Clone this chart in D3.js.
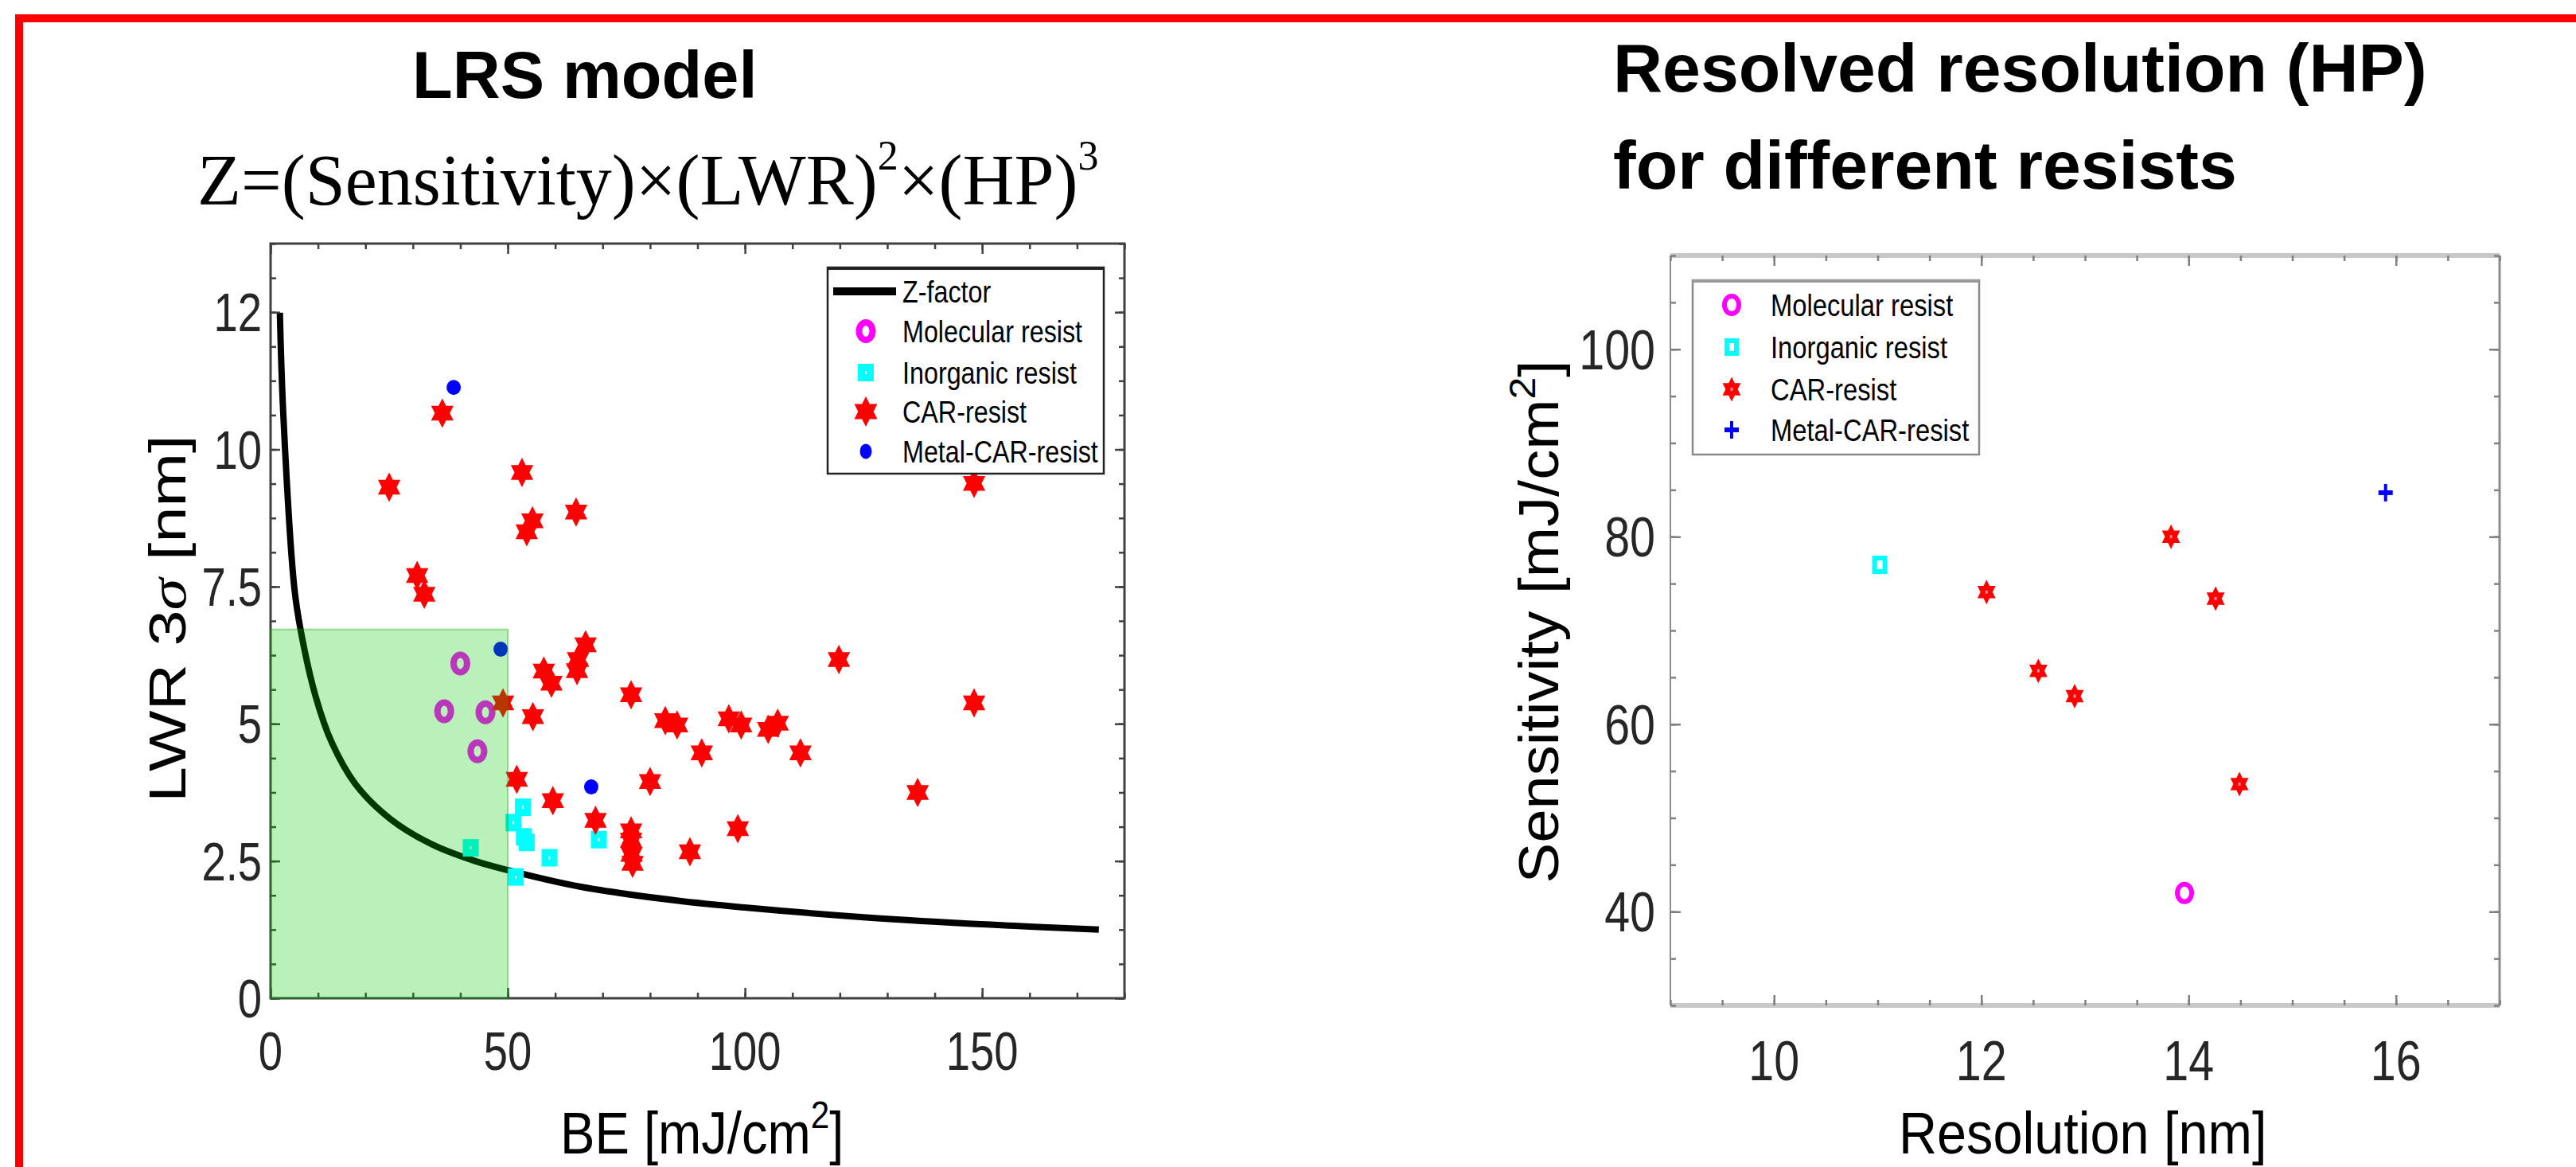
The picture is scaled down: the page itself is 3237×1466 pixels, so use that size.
<!DOCTYPE html>
<html lang="en">
<head>
<meta charset="UTF-8">
<title>LRS model / Resolved resolution</title>
<script src="https://d3js.org/d3.v7.min.js"></script>
<style>
  html, body { margin: 0; padding: 0; background: #fff; }
</style>
</head>
<body>
<div id="chart"></div>
<script>
// ---- data, left plot (BE vs LWR) ----
const zCurveBE  = [1.96, 2.68, 5.03, 6.4, 9.5, 12.9, 17.9, 25.2, 34.1, 43.1, 50.2, 65.4, 85.6, 100.4, 126.1, 151.8, 174.6];
const zCurveLWR = [12.49, 10.65, 7.46, 6.68, 5.5, 4.66, 3.9, 3.27, 2.8, 2.5, 2.33, 2.03, 1.78, 1.65, 1.47, 1.34, 1.25];

const molecularL = [[40.0, 6.1], [36.6, 5.23], [45.3, 5.21], [43.6, 4.5]];
const inorganicL = [[42.2, 2.74], [53.2, 3.48], [51.2, 3.2], [53.4, 2.94], [54.0, 2.84], [58.8, 2.56], [69.2, 2.89], [51.7, 2.21]];
const carL = [
  [36.2, 10.66], [25.0, 9.31], [53.0, 9.58], [64.4, 8.86], [55.2, 8.7], [54.0, 8.5], [30.9, 7.7], [32.4, 7.36],
  [148.3, 9.38], [49.0, 5.38], [66.4, 6.44], [64.8, 6.17], [64.6, 5.97], [57.6, 5.96], [59.2, 5.74], [76.0, 5.53],
  [119.8, 6.17], [148.3, 5.38], [55.3, 5.13], [83.2, 5.06], [85.7, 4.98], [96.6, 5.09], [99.2, 4.98], [104.9, 4.9],
  [106.9, 5.01], [90.9, 4.47], [111.7, 4.47], [51.9, 3.99], [80.0, 3.95], [136.4, 3.75], [59.5, 3.6], [68.5, 3.24],
  [98.5, 3.09], [76.0, 3.05], [76.0, 2.88], [76.1, 2.62], [76.3, 2.46], [88.4, 2.67]
];
const metalL = [[38.6, 11.13], [48.5, 6.36], [67.6, 3.85]];
const greenZoneBE = [0, 50];
const greenZoneLWR = [0, 6.72];

const xTicksL = [0, 50, 100, 150];
const yTicksL = [0, 2.5, 5, 7.5, 10, 12.5];
const yTickLabelsL = ["0", "2.5", "5", "7.5", "10", "12"];

// ---- data, right plot (Resolution vs Sensitivity) ----
const molecularR = [[13.96, 42.0]];
const inorganicR = [[11.02, 77.0]];
const carR = [[12.05, 74.1], [13.83, 80.0], [14.26, 73.4], [12.55, 65.7], [12.9, 63.0], [14.49, 53.6]];
const metalR = [[15.9, 84.7]];

const xTicksR = [10, 12, 14, 16];
const yTicksR = [40, 60, 80, 100];

const legendNames = ["Molecular resist", "Inorganic resist", "CAR-resist", "Metal-CAR-resist"];

// ---- page ----
const W = 3237, H = 1466;
const SANS = "'Liberation Sans', Arial, sans-serif";
const SERIF = "'Liberation Serif', 'Times New Roman', serif";

const svg = d3.select("#chart").append("svg")
  .attr("width", W).attr("height", H);
svg.append("rect").attr("width", W).attr("height", H).attr("fill", "#fff");

// red frame, only top + left visible
svg.append("path")
  .attr("d", `M24,${H} V23 H${W}`)
  .attr("fill", "none").attr("stroke", "#ff0000").attr("stroke-width", 10);

// text helper: squeezed horizontally like the pasted figure
function txt(g, x, y, str, o) {
  let tr = `translate(${x},${y}) scale(${o.sx || 1},1)`;
  if (o.rot) tr += ` rotate(${o.rot})`;
  return g.append("text")
    .attr("transform", tr)
    .attr("text-anchor", o.anchor || "start")
    .attr("font-family", o.family || SANS)
    .attr("font-size", o.size)
    .attr("font-weight", o.weight || "normal")
    .attr("fill", o.fill || "#000")
    .text(str);
}

function hexagram(R, sx) {
  const pts = [];
  for (let k = 0; k < 12; k++) {
    const a = (-90 + k * 30) * Math.PI / 180;
    const r = k % 2 === 0 ? R : R / Math.sqrt(3);
    pts.push([r * Math.cos(a) * sx, r * Math.sin(a)]);
  }
  return "M" + pts.map(p => p[0].toFixed(2) + "," + p[1].toFixed(2)).join("L") + "Z";
}

// marker painters
function ring(g, x, y, s) {
  g.append("ellipse").attr("cx", x).attr("cy", y).attr("rx", s.rx).attr("ry", s.ry)
    .attr("fill", "none").attr("stroke", "#ff00ff").attr("stroke-width", s.sw);
}
function square(g, x, y, s) {
  g.append("rect").attr("x", x - s.w / 2).attr("y", y - s.h / 2).attr("width", s.w).attr("height", s.h)
    .attr("fill", "none").attr("stroke", "#00ffff").attr("stroke-width", s.sw);
}
function star(g, x, y, s) {
  g.append("path").attr("transform", `translate(${x},${y})`).attr("d", hexagram(s.R, s.sx)).attr("fill", "#ff0000");
  if (s.dot) g.append("rect").attr("x", x - 1.5).attr("y", y - 2).attr("width", 3).attr("height", 4).attr("fill", "#ff9090");
}
function blob(g, x, y, s) {
  g.append("ellipse").attr("cx", x).attr("cy", y).attr("rx", s.rx).attr("ry", s.ry).attr("fill", "#0000ff");
}
function plus(g, x, y, s) {
  g.append("line").attr("x1", x - s.w / 2).attr("x2", x + s.w / 2).attr("y1", y).attr("y2", y)
    .attr("stroke", "#0000ff").attr("stroke-width", 6);
  g.append("line").attr("x1", x).attr("x2", x).attr("y1", y - s.h / 2).attr("y2", y + s.h / 2)
    .attr("stroke", "#0000ff").attr("stroke-width", 4);
}

// ================= left plot =================
const xL = d3.scaleLinear().domain([0, 180]).range([340, 1413]);
const yL = d3.scaleLinear().domain([0, 13.75]).range([1254, 306]);
const gL = svg.append("g");

txt(gL, 518, 123, "LRS model", { size: 83, weight: "bold" });

const formula = gL.append("text").attr("x", 248).attr("y", 257)
  .attr("font-family", SERIF).attr("font-size", 90).attr("fill", "#000");
formula.append("tspan").text("Z=(Sensitivity)×(LWR)");
formula.append("tspan").attr("font-size", 52).attr("dy", -44).text("2");
formula.append("tspan").attr("dy", 44).text("×(HP)");
formula.append("tspan").attr("font-size", 52).attr("dy", -44).text("3");

gL.append("rect").attr("x", xL(0)).attr("y", yL(13.75))
  .attr("width", xL(180) - xL(0)).attr("height", yL(0) - yL(13.75)).attr("fill", "#fff");

// Z-factor curve
gL.append("path")
  .datum(zCurveBE.map((b, i) => [b, zCurveLWR[i]]))
  .attr("fill", "none").attr("stroke", "#000").attr("stroke-width", 8)
  .attr("d", d3.line().x(d => xL(d[0])).y(d => yL(d[1])).curve(d3.curveCatmullRom.alpha(0.5)));

const sL = {
  ring: { rx: 8.5, ry: 11, sw: 8 },
  sq: { w: 11, h: 13, sw: 9 },
  star: { R: 18.5, sx: 0.88 },
  blob: { rx: 9, ry: 9.5 }
};
const mL = gL.append("g");
molecularL.forEach(d => ring(mL, xL(d[0]), yL(d[1]), sL.ring));
inorganicL.forEach(d => square(mL, xL(d[0]), yL(d[1]), sL.sq));
carL.forEach(d => star(mL, xL(d[0]), yL(d[1]), sL.star));
metalL.forEach(d => blob(mL, xL(d[0]), yL(d[1]), sL.blob));

// axes box + inward ticks
const axC = "#404040";
function styleAxis(sel) {
  sel.select(".domain").remove();
  sel.selectAll(".tick line").attr("stroke", axC).attr("stroke-width", 2.5);
  sel.selectAll(".tick text").remove();
}
const xMinorL = d3.range(0, 181, 10), yMinorL = d3.range(0, 13.76, 0.625);
[[xMinorL, 7], [xTicksL, 13]].forEach(([tv, len]) => {
  gL.append("g").attr("transform", `translate(0,${yL(0)})`).call(d3.axisBottom(xL).tickValues(tv).tickSize(-len)).call(styleAxis);
  gL.append("g").attr("transform", `translate(0,${yL(13.75)})`).call(d3.axisTop(xL).tickValues(tv).tickSize(-len)).call(styleAxis);
});
[[yMinorL, 7], [yTicksL, 12]].forEach(([tv, len]) => {
  gL.append("g").attr("transform", `translate(${xL(0)},0)`).call(d3.axisLeft(yL).tickValues(tv).tickSize(-len)).call(styleAxis);
  gL.append("g").attr("transform", `translate(${xL(180)},0)`).call(d3.axisRight(yL).tickValues(tv).tickSize(-len)).call(styleAxis);
});
gL.append("rect").attr("x", xL(0)).attr("y", yL(13.75))
  .attr("width", xL(180) - xL(0)).attr("height", yL(0) - yL(13.75))
  .attr("fill", "none").attr("stroke", axC).attr("stroke-width", 3);

// translucent green zone on top
gL.append("rect")
  .attr("x", xL(greenZoneBE[0])).attr("y", yL(greenZoneLWR[1]))
  .attr("width", xL(greenZoneBE[1]) - xL(greenZoneBE[0]))
  .attr("height", yL(greenZoneLWR[0]) - yL(greenZoneLWR[1]))
  .attr("fill", "rgb(0,200,0)").attr("fill-opacity", 0.27)
  .attr("stroke", "rgb(0,160,0)").attr("stroke-opacity", 0.35).attr("stroke-width", 2);

// tick labels
yTicksL.forEach((v, i) => txt(gL, 329, yL(v) + 24, yTickLabelsL[i], { size: 68, sx: 0.8, anchor: "end", fill: "#262626" }));
xTicksL.forEach(v => txt(gL, xL(v), 1344, String(v), { size: 68, sx: 0.8, anchor: "middle", fill: "#262626" }));

// axis labels
const ylab = gL.append("text").attr("transform", "translate(233,1008) scale(0.8,1) rotate(-90)")
  .attr("font-family", SANS).attr("font-size", 81).attr("fill", "#000");
ylab.append("tspan").text("LWR 3");
ylab.append("tspan").attr("font-family", SERIF).attr("font-style", "italic").text("σ");
ylab.append("tspan").text(" [nm]");

const xlab = gL.append("text").attr("transform", "translate(704,1449) scale(0.88,1)")
  .attr("font-family", SANS).attr("font-size", 74).attr("fill", "#000");
xlab.append("tspan").text("BE [mJ/cm");
xlab.append("tspan").attr("font-size", 48).attr("dy", -32).text("2");
xlab.append("tspan").attr("dy", 32).text("]");

// legend
const lgL = gL.append("g");
lgL.append("rect").attr("x", 1040).attr("y", 336).attr("width", 347).attr("height", 259)
  .attr("fill", "#fff").attr("stroke", "#222").attr("stroke-width", 2.5);
lgL.append("line").attr("x1", 1040).attr("x2", 1387).attr("y1", 337).attr("y2", 337).attr("stroke", "#222").attr("stroke-width", 4);
const lgRowsL = [366, 416, 468, 517, 567];
lgL.append("line").attr("x1", 1047).attr("x2", 1126).attr("y1", lgRowsL[0]).attr("y2", lgRowsL[0])
  .attr("stroke", "#000").attr("stroke-width", 10);
txt(lgL, 1134, lgRowsL[0] + 13.6, "Z-factor", { size: 38, sx: 0.85 });
ring(lgL, 1088, lgRowsL[1], sL.ring);
square(lgL, 1088, lgRowsL[2], sL.sq);
star(lgL, 1088, lgRowsL[3], { R: 19, sx: 0.88 });
blob(lgL, 1088, lgRowsL[4], { rx: 7.5, ry: 9.5 });
legendNames.forEach((n, i) => txt(lgL, 1134, lgRowsL[i + 1] + 13.6, n, { size: 38, sx: 0.85 }));

// ================= right plot =================
const xR = d3.scaleLinear().domain([9, 17]).range([2099, 3141]);
const yR = d3.scaleLinear().domain([30, 110]).range([1263, 321]);
const gR = svg.append("g");

txt(gR, 2027, 115, "Resolved resolution (HP)", { size: 86, weight: "bold" });
txt(gR, 2027, 237, "for different resists", { size: 86, weight: "bold" });

// frame
const tickC = "#7f7f7f";
gR.append("rect").attr("x", xR(9)).attr("y", yR(110) - 3).attr("width", xR(17) - xR(9)).attr("height", 6).attr("fill", "#c8c8c8");
gR.append("rect").attr("x", xR(9)).attr("y", yR(30) - 3).attr("width", xR(17) - xR(9)).attr("height", 6).attr("fill", "#c8c8c8");
gR.append("line").attr("x1", xR(9)).attr("x2", xR(9)).attr("y1", yR(110)).attr("y2", yR(30)).attr("stroke", "#8c8c8c").attr("stroke-width", 2);
gR.append("line").attr("x1", xR(17)).attr("x2", xR(17)).attr("y1", yR(110)).attr("y2", yR(30)).attr("stroke", "#8c8c8c").attr("stroke-width", 3);

function styleAxisR(sel) {
  sel.select(".domain").remove();
  sel.selectAll(".tick line").attr("stroke", tickC).attr("stroke-width", 2.5);
  sel.selectAll(".tick text").remove();
}
const xMinorR = d3.range(9, 17.01, 0.5), yMinorR = d3.range(30, 110.1, 5);
[[xMinorR, 7], [xTicksR, 13]].forEach(([tv, len]) => {
  gR.append("g").attr("transform", `translate(0,${yR(30)})`).call(d3.axisBottom(xR).tickValues(tv).tickSize(-len)).call(styleAxisR);
  gR.append("g").attr("transform", `translate(0,${yR(110)})`).call(d3.axisTop(xR).tickValues(tv).tickSize(-len)).call(styleAxisR);
});
[[yMinorR, 7], [yTicksR, 13]].forEach(([tv, len]) => {
  gR.append("g").attr("transform", `translate(${xR(9)},0)`).call(d3.axisLeft(yR).tickValues(tv).tickSize(-len)).call(styleAxisR);
  gR.append("g").attr("transform", `translate(${xR(17)},0)`).call(d3.axisRight(yR).tickValues(tv).tickSize(-len)).call(styleAxisR);
});

const sR = {
  ring: { rx: 9, ry: 11, sw: 6 },
  sq: { w: 13, h: 17, sw: 6 },
  star: { R: 15.5, sx: 0.85, dot: true },
  plus: { w: 18, h: 22 }
};
const mR = gR.append("g");
molecularR.forEach(d => ring(mR, xR(d[0]), yR(d[1]), sR.ring));
inorganicR.forEach(d => square(mR, xR(d[0]), yR(d[1]), sR.sq));
carR.forEach(d => star(mR, xR(d[0]), yR(d[1]), sR.star));
metalR.forEach(d => plus(mR, xR(d[0]), yR(d[1]), sR.plus));

yTicksR.forEach(v => txt(gR, 2080, yR(v) + 25, String(v), { size: 70, sx: 0.82, anchor: "end", fill: "#262626" }));
xTicksR.forEach(v => txt(gR, xR(v), 1357, String(v), { size: 70, sx: 0.82, anchor: "middle", fill: "#262626" }));

txt(gR, 2386, 1449, "Resolution [nm]", { size: 74, sx: 0.9 });
const ylabR = gR.append("text").attr("transform", "translate(1958,781) scale(0.92,1) rotate(-90)")
  .attr("text-anchor", "middle").attr("font-family", SANS).attr("font-size", 76).attr("fill", "#000");
ylabR.append("tspan").text("Sensitivity [mJ/cm");
ylabR.append("tspan").attr("font-size", 50).attr("dy", -32).text("2");
ylabR.append("tspan").attr("dy", 32).text("]");

// legend
const lgR = gR.append("g");
lgR.append("rect").attr("x", 2127).attr("y", 352).attr("width", 360).attr("height", 219)
  .attr("fill", "#fff").attr("stroke", "#8a8a8a").attr("stroke-width", 2.5);
lgR.append("line").attr("x1", 2127).attr("x2", 2487).attr("y1", 353).attr("y2", 353).attr("stroke", "#9a9a9a").attr("stroke-width", 4);
const lgRowsR = [383, 436, 489, 540];
ring(lgR, 2176, lgRowsR[0], sR.ring);
square(lgR, 2176, lgRowsR[1], { w: 12, h: 16, sw: 6 });
star(lgR, 2176, lgRowsR[2], sR.star);
plus(lgR, 2176, lgRowsR[3], sR.plus);
legendNames.forEach((n, i) => txt(lgR, 2225, lgRowsR[i] + 14, n, { size: 39, sx: 0.84 }));
</script>
</body>
</html>
